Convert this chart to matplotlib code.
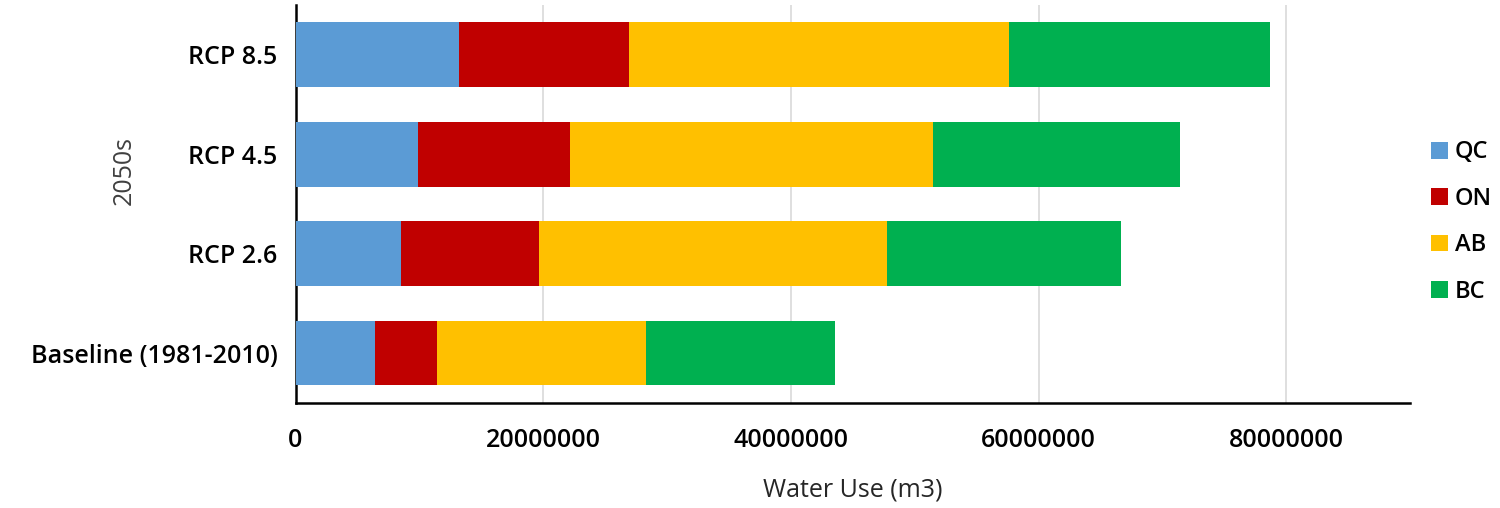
import matplotlib.pyplot as plt

plt.rcParams['font.family'] = ['Open Sans', 'DejaVu Sans']

scenarios = ['Baseline (1981-2010)', 'RCP 2.6', 'RCP 4.5', 'RCP 8.5']
qc = [6.4e6, 8.5e6, 9.9e6, 13.2e6]
on = [5.0e6, 11.2e6, 12.3e6, 13.7e6]
ab = [16.9e6, 28.1e6, 29.3e6, 30.7e6]
bc = [15.3e6, 18.9e6, 19.9e6, 21.1e6]
xticks = [0, 20000000, 40000000, 60000000, 80000000]

series = [('QC', qc, '#5B9BD5'), ('ON', on, '#C00000'),
          ('AB', ab, '#FFC000'), ('BC', bc, '#00B050')]

fig = plt.figure(figsize=(15, 5.08), dpi=100)
ax = fig.add_axes([0.197, 0.207, 0.743, 0.783])

left = [0] * len(scenarios)
for name, vals, col in series:
    ax.barh(scenarios, vals, left=left, height=0.65, color=col, label=name, zorder=3)
    left = [l + v for l, v in zip(left, vals)]

ax.set_xlim(0, 90000000)
ax.set_ylim(-0.5, 3.5)
ax.set_xticks(xticks)
ax.set_xticklabels([str(t) for t in xticks])
ax.grid(axis='x', color='#d9d9d9', linewidth=1.2, zorder=0)
ax.tick_params(length=0, labelsize=18, pad=13)
ax.tick_params(axis='x', pad=18)
for lbl in ax.get_xticklabels() + ax.get_yticklabels():
    lbl.set_fontweight('semibold')
for s in ['top', 'right']:
    ax.spines[s].set_visible(False)
for s in ['left', 'bottom']:
    ax.spines[s].set_linewidth(1.8)
    ax.spines[s].set_color('black')

ax.set_xlabel('Water Use (m3)', fontsize=18, color='#262626', labelpad=18)
fig.text(0.083, 0.665, '2050s', rotation=90, fontsize=18, color='#404040',
         ha='center', va='center')

fig.legend(loc='center left', bbox_to_anchor=(0.954, 0.563), frameon=False,
           borderaxespad=0, borderpad=0,
           prop={'size': 17, 'weight': 'semibold'}, handlelength=0.72,
           handleheight=0.72, handletextpad=0.3, labelspacing=0.95)

fig.savefig('out.png', dpi=100)
